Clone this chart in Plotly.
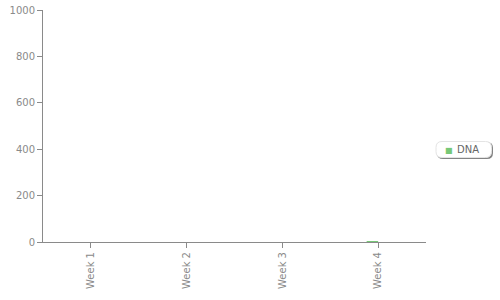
import plotly.graph_objects as go

categories = ["Week 1", "Week 2", "Week 3", "Week 4"]
dna_values = [0, 0, 0, 2]
y_ticks = [0, 200, 400, 600, 800, 1000]
series_name = "DNA"

GRAY = "#8a8a8a"
GREEN = "#77c877"
FONT = "DejaVu Sans"

fig = go.Figure()
fig.add_trace(go.Bar(
    x=categories, y=dna_values, name=series_name, showlegend=False,
    marker=dict(color=GREEN, line=dict(width=0)),
    width=0.12, offset=-0.12,
))


def rrect(x0, y0, x1, y1, r):
    return (f"M{x0+r},{y0} L{x1-r},{y0} Q{x1},{y0} {x1},{y0+r} "
            f"L{x1},{y1-r} Q{x1},{y1} {x1-r},{y1} L{x0+r},{y1} "
            f"Q{x0},{y1} {x0},{y1-r} L{x0},{y0+r} Q{x0},{y0} {x0+r},{y0} Z")


shapes = [
    dict(type="path", xref="paper", yref="paper", xsizemode="pixel", ysizemode="pixel",
         xanchor=1.0, yanchor=0.0,
         path=rrect(11, 83, 67, 100, 6),
         fillcolor="#777777", line=dict(width=0), opacity=0.9, layer="below"),
    dict(type="path", xref="paper", yref="paper", xsizemode="pixel", ysizemode="pixel",
         xanchor=1.0, yanchor=0.0,
         path=rrect(10, 84.5, 65.5, 100.5, 6),
         fillcolor="white", line=dict(color="#e4e4e4", width=1), layer="below"),
]

legend_text = (f'<span style="color:{GREEN};font-size:8px">■</span>'
               f'<span style="font-size:4px"> </span> {series_name}')

fig.update_layout(
    width=500, height=300,
    margin=dict(l=43, r=74, t=10, b=58, autoexpand=False),
    paper_bgcolor="white", plot_bgcolor="white",
    font=dict(family=FONT, size=10, color=GRAY),
    showlegend=False,
    shapes=shapes,
    annotations=[dict(
        xref="paper", yref="paper", x=1.044, y=0.397,
        xanchor="left", yanchor="middle", showarrow=False,
        text=legend_text, font=dict(family=FONT, size=10, color="#666666"),
    )],
)
fig.update_xaxes(
    type="category", categoryorder="array", categoryarray=categories,
    showgrid=False, zeroline=False, showline=True, linecolor=GRAY, linewidth=1,
    ticks="outside", ticklen=5, tickcolor=GRAY, tickangle=-90, automargin=False,
    tickfont=dict(family=FONT, size=10, color=GRAY), fixedrange=True,
)
fig.update_yaxes(
    range=[0, 1000], tickvals=y_ticks, ticktext=[str(v) for v in y_ticks],
    showgrid=False, zeroline=False, showline=True, linecolor=GRAY, linewidth=1,
    ticks="outside", ticklen=5, tickcolor=GRAY, automargin=False,
    tickfont=dict(family=FONT, size=10, color=GRAY), fixedrange=True,
)

fig.write_html("out.html", config={"displayModeBar": False})
